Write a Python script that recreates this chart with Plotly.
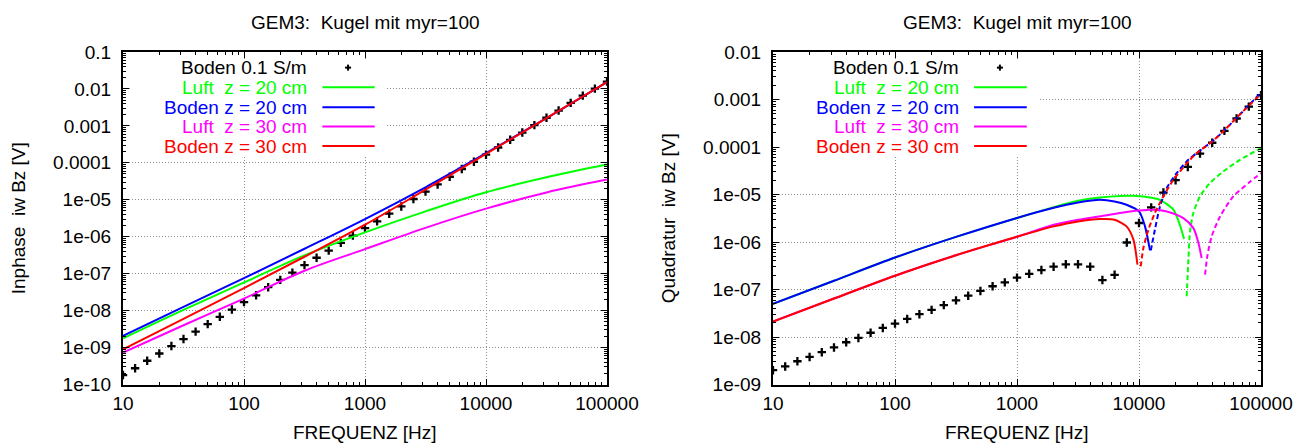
import plotly.graph_objects as go

# ---------------- data ----------------
# measured points (every 0.1 decade)
freq_pts = [10, 12.59, 15.85, 19.95, 25.12, 31.62, 39.81, 50.12, 63.10, 79.43,
            100, 125.9, 158.5, 199.5, 251.2, 316.2, 398.1, 501.2, 631.0, 794.3,
            1000, 1259, 1585, 1995, 2512, 3162, 3981, 5012, 6310, 7943,
            10000, 12589, 15849, 19953, 25119, 31623, 39811, 50119, 63096, 79433, 100000]

inph_boden_pts = [1.8e-10, 2.75e-10, 4.4e-10, 6.9e-10, 1.1e-9, 1.7e-9, 2.7e-9, 4.3e-9, 6.8e-9, 1.07e-8,
                  1.7e-8, 2.6e-8, 4.3e-8, 6.8e-8, 1.07e-7, 1.7e-7, 2.7e-7, 4.2e-7, 6.8e-7, 1.07e-6,
                  1.7e-6, 2.6e-6, 4.2e-6, 6.6e-6, 1.05e-5, 1.66e-5, 2.6e-5, 4.2e-5, 6.8e-5, 1.07e-4,
                  1.66e-4, 2.6e-4, 4.2e-4, 6.6e-4, 1.05e-3, 1.66e-3, 2.6e-3, 4.2e-3, 6.6e-3, 1.02e-2, 1.58e-2]

quad_boden_pts = [2.0e-9, 2.4e-9, 3.09e-9, 3.8e-9, 4.79e-9, 6.03e-9, 7.76e-9, 9.55e-9, 1.23e-8, 1.55e-8,
                  1.91e-8, 2.4e-8, 3.02e-8, 3.72e-8, 4.68e-8, 5.89e-8, 7.41e-8, 9.33e-8, 1.17e-7, 1.41e-7,
                  1.78e-7, 2.14e-7, 2.57e-7, 3.02e-7, 3.39e-7, 3.39e-7, 3.02e-7, 1.58e-7, 2.04e-7, 9.77e-7,
                  2.51e-6, 5.37e-6, 1.10e-5, 2.0e-5, 3.8e-5, 7.24e-5, 1.23e-4, 2.19e-4, 3.98e-4, 7.08e-4, 1.23e-3]

# inphase curves
inph_freq = [10, 31.62, 100, 316.2, 1000, 3162, 10000, 31623, 100000]
inph_luft20 = [1.78e-9, 1.05e-8, 5.77e-8, 3.12e-7, 1.31e-6, 4.86e-6, 1.60e-5, 4.06e-5, 8.97e-5]
inph_boden20 = [2.07e-9, 1.26e-8, 7.57e-8, 4.72e-7, 3.01e-6, 2.18e-5, 1.82e-4, 1.62e-3, 1.53e-2]
inph_luft30 = [7.30e-10, 4.02e-9, 2.12e-8, 1.20e-7, 4.62e-7, 1.74e-6, 5.75e-6, 1.58e-5, 3.52e-5]
inph_boden30 = [8.98e-10, 5.97e-9, 4.06e-8, 2.87e-7, 2.11e-6, 1.88e-5, 1.75e-4, 1.62e-3, 1.53e-2]

# quadrature curves: positive part (solid) and negative part (dashed, |value|)
q_luft20_pos_f = [10, 31.62, 100, 316.2, 1000, 2000, 3162, 4800, 7000, 9000, 13100, 14860, 19150, 21600, 23400]
q_luft20_pos_v = [4.97e-8, 1.53e-7, 4.71e-7, 1.28e-6, 3.21e-6, 5.4e-6, 7.38e-6, 8.65e-6, 9.33e-6, 9.4e-6,
                  8.4e-6, 7.74e-6, 4.79e-6, 2.31e-6, 1.16e-6]
q_luft20_neg_f = [24600, 25400, 26200, 27900, 31600, 38200, 49100, 67300, 100000]
q_luft20_neg_v = [7.18e-8, 4.25e-7, 1.67e-6, 4.07e-6, 9.12e-6, 1.74e-5, 3.05e-5, 5.37e-5, 9.44e-5]

q_boden20_pos_f = [10, 31.62, 100, 316.2, 1000, 2000, 3162, 4800, 6300, 7900, 10000, 11200, 12300]
q_boden20_pos_v = [4.97e-8, 1.53e-7, 4.71e-7, 1.28e-6, 3.21e-6, 5.25e-6, 6.8e-6, 7.74e-6, 7.15e-6, 6.08e-6,
                   4.40e-6, 2.13e-6, 6.65e-7]
q_boden20_neg_f = [12500, 13500, 14860, 16860, 20360, 25360, 30000, 40000, 50000, 70000, 100000]
q_boden20_neg_v = [6.65e-7, 1.81e-6, 5.6e-6, 1.36e-5, 2.82e-5, 5.37e-5, 7.6e-5, 1.32e-4, 2.24e-4, 5.4e-4, 1.40e-3]

q_luft30_pos_f = [10, 31.62, 100, 316.2, 1000, 2000, 3162, 4800, 7000, 10000, 13100, 16900, 23100, 27900, 30700, 32600]
q_luft30_pos_v = [2.12e-8, 6.46e-8, 1.95e-7, 5.27e-7, 1.29e-6, 2.3e-6, 2.95e-6, 3.47e-6, 4.07e-6, 4.61e-6,
                  4.79e-6, 4.4e-6, 3.18e-6, 1.96e-6, 9.55e-7, 4.6e-7]
q_luft30_neg_f = [34800, 36300, 39400, 46200, 59300, 81300, 100000]
q_luft30_neg_v = [2.05e-7, 5.01e-7, 1.31e-6, 3.45e-6, 9.12e-6, 1.86e-5, 2.82e-5]

q_boden30_pos_f = [10, 31.62, 100, 316.2, 1000, 2000, 3162, 4800, 6300, 7900, 9000, 9710]
q_boden30_pos_v = [2.12e-8, 6.46e-8, 1.95e-7, 5.27e-7, 1.29e-6, 2.13e-6, 2.71e-6, 3.04e-6, 2.95e-6, 2.13e-6,
                   1.12e-6, 3.33e-7]
q_boden30_neg_f = [10330, 10860, 11940, 13500, 15850, 19150, 26180, 30000, 40000, 50000, 70000, 100000]
q_boden30_neg_v = [3.07e-7, 7.41e-7, 1.81e-6, 4.07e-6, 9.12e-6, 2.04e-5, 5.37e-5, 7.6e-5, 1.32e-4, 2.24e-4,
                   5.4e-4, 1.30e-3]

x_ticks = [10, 100, 1000, 10000, 100000]
x_ticktext = ["10", "100", "1000", "10000", "100000"]
y1_ticks = [1e-10, 1e-9, 1e-8, 1e-7, 1e-6, 1e-5, 1e-4, 1e-3, 1e-2, 1e-1]
y1_ticktext = ["1e-10", "1e-09", "1e-08", "1e-07", "1e-06", "1e-05", "0.0001", "0.001", "0.01", "0.1"]
y2_ticks = [1e-9, 1e-8, 1e-7, 1e-6, 1e-5, 1e-4, 1e-3, 1e-2]
y2_ticktext = ["1e-09", "1e-08", "1e-07", "1e-06", "1e-05", "0.0001", "0.001", "0.01"]

titles = ["GEM3:\u00a0 Kugel mit myr=100", "GEM3:\u00a0 Kugel mit myr=100"]
ytitles = ["Inphase\u00a0 iw Bz [V]", "Quadratur\u00a0 iw Bz [V]"]
xtitle = "FREQUENZ [Hz]"
legend_names = ["Boden 0.1 S/m", "Luft\u00a0 z = 20 cm", "Boden z = 20 cm", "Luft\u00a0 z = 30 cm", "Boden z = 30 cm"]

# ---------------- styling ----------------
FONT = "Liberation Sans, Arial, Helvetica, sans-serif"
FS = 19
W, H = 1294, 445
GREEN, BLUE, MAGENTA, RED = "#00ff00", "#0000ff", "#ff00ff", "#ff0000"
colors = ["black", GREEN, BLUE, MAGENTA, RED]
LW = 2

L1, R1 = 123, 607
L2, R2 = 773, 1261
TOP, BOT = 52, 384.5
TICKLEN = 6


def px_x(p):
    return p / W


def px_y(p):
    return 1 - p / H


fig = go.Figure()

mark = dict(symbol="cross-thin", size=6, line=dict(width=2.3, color="black"), color="black")
spl_left = dict(shape="spline", smoothing=1.0, width=LW)
spl = dict(shape="spline", smoothing=0.7, width=LW)

# left plot
fig.add_trace(go.Scatter(x=freq_pts, y=inph_boden_pts, mode="markers", marker=mark,
                         xaxis="x", yaxis="y"))
for f, v, c in [(inph_freq, inph_luft20, GREEN), (inph_freq, inph_boden20, BLUE),
                (inph_freq, inph_luft30, MAGENTA), (inph_freq, inph_boden30, RED)]:
    fig.add_trace(go.Scatter(x=f, y=v, mode="lines", line=dict(color=c, **spl_left), xaxis="x", yaxis="y"))

# right plot
fig.add_trace(go.Scatter(x=freq_pts, y=quad_boden_pts, mode="markers", marker=mark,
                         xaxis="x2", yaxis="y2"))
for (fp, vp, fn, vn, c) in [
    (q_luft20_pos_f, q_luft20_pos_v, q_luft20_neg_f, q_luft20_neg_v, GREEN),
    (q_boden20_pos_f, q_boden20_pos_v, q_boden20_neg_f, q_boden20_neg_v, BLUE),
    (q_luft30_pos_f, q_luft30_pos_v, q_luft30_neg_f, q_luft30_neg_v, MAGENTA),
    (q_boden30_pos_f, q_boden30_pos_v, q_boden30_neg_f, q_boden30_neg_v, RED),
]:
    fig.add_trace(go.Scatter(x=fp, y=vp, mode="lines", line=dict(color=c, **spl), xaxis="x2", yaxis="y2"))
    fig.add_trace(go.Scatter(x=fn, y=vn, mode="lines", line=dict(color=c, dash="5px,3px", **spl),
                             xaxis="x2", yaxis="y2"))

minor_x = [m * 10 ** e for e in range(1, 5) for m in range(2, 10)]
minor_y = [m * 10.0 ** e for e in range(-10, -1) for m in range(2, 10)]


def axis(domain, rng, tv, tt, anchor, minor_vals, standoff):
    return dict(type="log", domain=domain, range=rng, anchor=anchor,
                tickmode="array", tickvals=tv, ticktext=tt,
                showline=True, linecolor="black", linewidth=2, mirror="allticks",
                ticks="inside", ticklen=TICKLEN, tickwidth=1, tickcolor="black",
                showgrid=True, gridcolor="#8c8c8c", griddash="1px,2px", gridwidth=1,
                tickfont=dict(family=FONT, size=FS, color="black"),
                ticklabelstandoff=standoff,
                minor=dict(tickmode="array", tickvals=minor_vals, ticks="inside", ticklen=3,
                           tickcolor="black", tickwidth=1, showgrid=False),
                zeroline=False, automargin=False, fixedrange=True)


fig.update_layout(
    width=W, height=H, margin=dict(l=0, r=0, t=0, b=0),
    paper_bgcolor="white", plot_bgcolor="white", showlegend=False,
    font=dict(family=FONT, size=FS, color="black"),
    xaxis=axis([px_x(L1), px_x(R1)], [1, 5], x_ticks, x_ticktext, "y", minor_x, 1),
    yaxis=axis([px_y(BOT), px_y(TOP)], [-10, -1], y1_ticks, y1_ticktext, "x", minor_y, 6),
    xaxis2=axis([px_x(L2), px_x(R2)], [1, 5], x_ticks, x_ticktext, "y2", minor_x, 1),
    yaxis2=axis([px_y(BOT), px_y(TOP)], [-9, -2], y2_ticks, y2_ticktext, "x2", minor_y, 6),
)

annotations = []
shapes = []
for i, (L, R) in enumerate([(L1, R1), (L2, R2)]):
    cx = (L + R) / 2
    annotations.append(dict(text=titles[i], x=px_x(cx), y=px_y(22.5), xref="paper", yref="paper",
                            xanchor="center", yanchor="middle", showarrow=False,
                            font=dict(family=FONT, size=FS, color="black")))
    annotations.append(dict(text=xtitle, x=px_x(cx), y=px_y(432), xref="paper", yref="paper",
                            xanchor="center", yanchor="middle", showarrow=False,
                            font=dict(family=FONT, size=FS, color="black")))
    annotations.append(dict(text=ytitles[i], x=px_x(L - 105), y=px_y((TOP + BOT) / 2), xref="paper",
                            yref="paper", xanchor="center", yanchor="middle", textangle=-90,
                            showarrow=False, font=dict(family=FONT, size=FS, color="black")))
    xr = "x domain" if i == 0 else "x2 domain"
    yr = "y domain" if i == 0 else "y2 domain"
    wpx = R - L
    hpx = BOT - TOP
    # opaque key box (hides the grid), inset so the frame ticks stay visible
    shapes.append(dict(type="rect", xref=xr, yref=yr, x0=(TICKLEN + 1) / wpx, x1=0.545, y0=0.69,
                       y1=1 - (TICKLEN + 1) / hpx, fillcolor="white", line=dict(width=0), layer="above"))
    rows = [0.953, 0.894, 0.834, 0.776, 0.717]
    for j, name in enumerate(legend_names):
        annotations.append(dict(text=name, x=0.385, y=rows[j], xref=xr, yref=yr,
                                xanchor="right", yanchor="middle", showarrow=False,
                                font=dict(family=FONT, size=FS, color=colors[j])))
        if j == 0:
            shapes.append(dict(type="line", xref=xr, yref=yr, x0=0.465 - 3 / wpx, x1=0.465 + 3 / wpx,
                               y0=rows[j], y1=rows[j], line=dict(color="black", width=2), layer="above"))
            shapes.append(dict(type="line", xref=xr, yref=yr, x0=0.465, x1=0.465, y0=rows[j] - 3 / hpx,
                               y1=rows[j] + 3 / hpx, line=dict(color="black", width=2), layer="above"))
        else:
            shapes.append(dict(type="line", xref=xr, yref=yr, x0=0.412, x1=0.520, y0=rows[j], y1=rows[j],
                               line=dict(color=colors[j], width=LW), layer="above"))

fig.update_layout(annotations=annotations, shapes=shapes)

fig.write_html("out.html", config={"displayModeBar": False},
               post_script="document.body.style.margin='0';document.body.style.overflow='hidden';")
